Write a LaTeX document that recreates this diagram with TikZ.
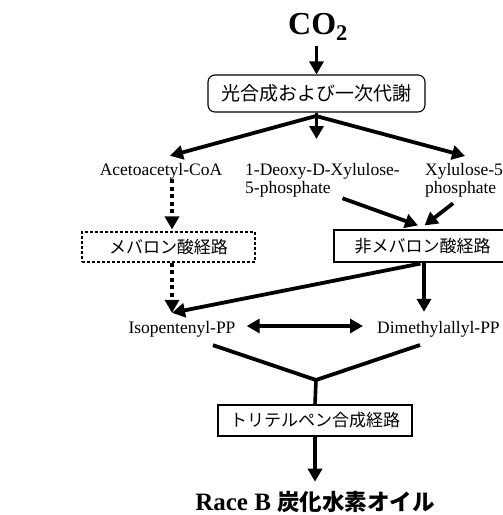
\documentclass[tikz,border=0pt]{standalone}
\usepackage{fontspec}
\setmainfont{Liberation Serif}
\newfontfamily\jp{Noto Sans CJK JP}
\usetikzlibrary{arrows.meta}

\begin{document}
\begin{tikzpicture}[x=1pt,y=-1pt,
        spitze/.tip={Triangle[length=13pt,width=14pt]},
        pfeil/.style={line width=3.8pt,-spitze},
        doppel/.style={line width=3.8pt,spitze-spitze},
        punkt/.style={pfeil,dash pattern=on 4pt off 3.5pt},
        kasten/.style={draw,line width=1.1pt,inner sep=0pt,minimum height=31pt,font=\jp\fontsize{17}{17}\selectfont},
        stoff/.style={inner sep=0pt,font=\fontsize{17.5}{18}\selectfont}]
        \useasboundingbox (0,0) rectangle (503,515);

        \node (co2) at (318,27) {\fontsize{32}{32}\selectfont\textbf{CO\textsubscript{2}}};
        \node[kasten,rounded corners=7pt,minimum width=217pt,minimum height=37pt,font=\jp\fontsize{19}{19}\selectfont] (photo) at (316.5,93.5) {光合成および一次代謝};
        \draw[pfeil,shorten <=2pt] (co2.south -| photo.north) -- (photo.north);

        \coordinate (split) at (316,116);
        \node[stoff] (aceto) at (161,171) {Acetoacetyl-CoA};
        \node[stoff,anchor=north west,align=left] (dxp) at (245,163) {1-Deoxy-D-Xylulose-\\5-phosphate};
        \node[stoff,anchor=north west,align=left] (xyl) at (425,163) {Xylulose-5\\phosphate};

        \draw[pfeil] (photo.south) -- ([yshift=24pt]photo.south |- dxp.north);
        \draw[pfeil] (split) -- ([xshift=9pt,yshift=7pt]aceto.north);
        \draw[pfeil] (split) -- ([xshift=1pt,yshift=7pt]xyl.north);

        \node[kasten,dash pattern=on 3pt off 2pt,minimum width=173pt,minimum height=30pt] (mva) at (168.5,247) {メバロン酸経路};
        \node[kasten,minimum width=177pt,minimum height=32pt] (nonmva) at (422.5,246) {非メバロン酸経路};

        \draw[punkt] ([xshift=11pt]aceto.south) -- ([xshift=11pt,yshift=2pt]aceto.south |- mva.north);
        \draw[pfeil] ([xshift=20pt,yshift=-1pt]dxp.south) -- ([xshift=-4.5pt,yshift=4pt]nonmva.north);
        \draw[pfeil] ([xshift=-11pt,yshift=-6pt]xyl.south) -- ([xshift=2pt,yshift=4pt]nonmva.north);

        \node[stoff] (ipp) at (182,329) {Isopentenyl-PP};
        \node[stoff,anchor=west] (dmapp) at (377,329) {Dimethylallyl-PP};

        \draw[punkt] ([xshift=3.5pt]mva.south) -- ([xshift=3.5pt,yshift=8pt]mva.south |- ipp.north);
        \draw[pfeil] ([xshift=1.5pt]nonmva.south) -- ([xshift=1.5pt,yshift=9pt]nonmva.south |- dmapp.north);
        \draw[pfeil] ([xshift=-2pt,yshift=-1pt]nonmva.south) -- ([xshift=-10pt,yshift=8pt]ipp.north);
        \draw[doppel,shorten <=11pt,shorten >=14pt] ([yshift=3pt]ipp.east) -- ([yshift=3pt]dmapp.west);

        \node[kasten,minimum width=194pt] (trit) at (315,420.5) {トリテルペン合成経路};
        \coordinate (knick) at (316,380);
        \draw[line width=3.8pt] ([xshift=31pt,yshift=-8pt]ipp.south) -- (knick) -- (420,345);
        \draw[line width=3.6pt] (knick) -- (trit.north);

        \node (race) at (315,502) {\bfseries\fontsize{25}{25}\selectfont Race B {\jp\fontsize{22.5}{22.5}\selectfont 炭化水素オイル}};
        \draw[pfeil,shorten >=6pt] (trit.south) -- (race.north);
\end{tikzpicture}
\end{document}
